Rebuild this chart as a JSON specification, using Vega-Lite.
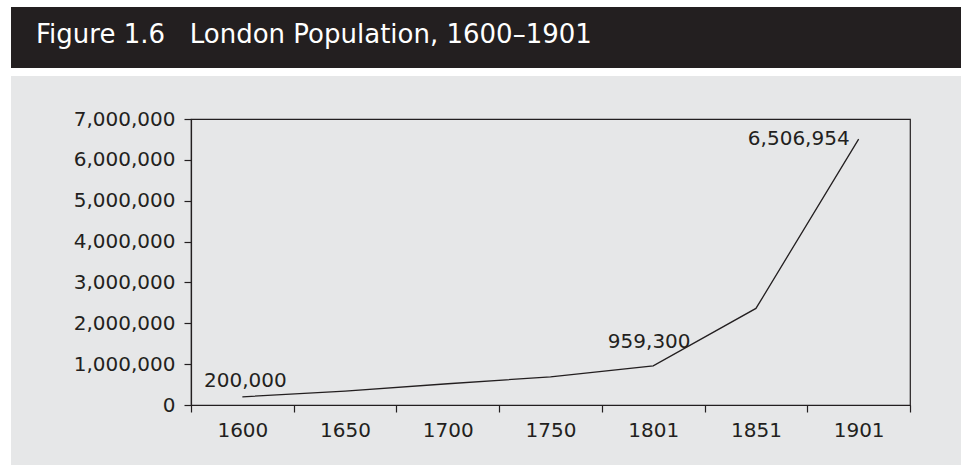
{
  "$schema": "https://vega.github.io/schema/vega-lite/v6.json",
  "background": "#e6e7e8",
  "padding": 0,
  "spacing": 0,
  "bounds": "flush",
  "config": {
    "view": {"stroke": null},
    "font": "DejaVu Sans",
    "concat": {"spacing": 0}
  },
  "datasets": {
    "blank": [{}],
    "header": [{"t": "Figure\u00a01.6\u00a0\u00a0\u00a0London Population, 1600–1901"}],
    "pop": [
      {"year": "1600", "pop": 200000},
      {"year": "1650", "pop": 340000},
      {"year": "1700", "pop": 520000},
      {"year": "1750", "pop": 690000},
      {"year": "1801", "pop": 959300},
      {"year": "1851", "pop": 2363341},
      {"year": "1901", "pop": 6506954}
    ]
  },
  "hconcat": [
    {
      "data": {"name": "blank"},
      "mark": {"type": "point", "opacity": 0},
      "encoding": {},
      "width": 11,
      "height": 465,
      "view": {"fill": "#ffffff", "stroke": null}
    },
    {
      "spacing": 0,
      "bounds": "flush",
      "vconcat": [
        {
          "data": {"name": "blank"},
          "mark": {"type": "point", "opacity": 0},
          "encoding": {},
          "width": 950,
          "height": 7,
          "view": {"fill": "#ffffff", "stroke": null}
        },
        {
          "data": {"name": "header"},
          "mark": {"type": "text", "align": "left", "baseline": "alphabetic", "font": "DejaVu Sans", "fontSize": 26, "color": "#ffffff"},
          "encoding": {
            "text": {"field": "t"},
            "x": {"value": 25},
            "y": {"value": 36}
          },
          "width": 950,
          "height": 61,
          "view": {"fill": "#231f20", "stroke": null}
        },
        {
          "data": {"name": "blank"},
          "mark": {"type": "point", "opacity": 0},
          "encoding": {},
          "width": 950,
          "height": 8,
          "view": {"fill": "#ffffff", "stroke": null}
        },
        {
          "data": {"name": "blank"},
          "mark": {"type": "point", "opacity": 0},
          "encoding": {},
          "width": 950,
          "height": 43,
          "view": {"stroke": null}
        },
        {
          "spacing": 0,
          "bounds": "flush",
          "hconcat": [
            {
              "data": {"name": "blank"},
              "mark": {"type": "point", "opacity": 0},
              "encoding": {},
              "width": 180,
              "height": 286,
              "view": {"stroke": null}
            },
            {
              "data": {"name": "pop"},
              "width": 719,
              "height": 286,
              "view": {"stroke": "#231f20", "strokeWidth": 1.2},
              "encoding": {
                "x": {
                  "field": "year",
                  "type": "ordinal",
                  "sort": null,
                  "scale": {"type": "band", "paddingInner": 0, "paddingOuter": 0},
                  "axis": {
                    "title": null,
                    "labelAngle": 0,
                    "tickBand": "extent",
                    "tickSize": 7,
                    "tickColor": "#231f20",
                    "tickWidth": 1.2,
                    "domainColor": "#231f20",
                    "domainWidth": 1.2,
                    "labelFont": "DejaVu Sans",
                    "labelFontSize": 20,
                    "labelColor": "#231f20",
                    "labelPadding": 8,
                    "grid": false
                  }
                },
                "y": {
                  "field": "pop",
                  "type": "quantitative",
                  "scale": {"domain": [0, 7000000], "nice": false},
                  "axis": {
                    "title": null,
                    "values": [0, 1000000, 2000000, 3000000, 4000000, 5000000, 6000000, 7000000],
                    "labelExpr": "format(datum.value, ',')",
                    "tickSize": 7,
                    "tickColor": "#231f20",
                    "tickWidth": 1.2,
                    "domainColor": "#231f20",
                    "domainWidth": 1.2,
                    "labelFont": "DejaVu Sans",
                    "labelFontSize": 20,
                    "labelColor": "#231f20",
                    "labelPadding": 9,
                    "grid": false
                  }
                }
              },
              "layer": [
                {"mark": {"type": "line", "color": "#231f20", "strokeWidth": 1.3}},
                {
                  "transform": [{"filter": "datum.year == '1600'"}],
                  "mark": {"type": "text", "align": "center", "baseline": "alphabetic", "dx": 3, "dy": -10, "font": "DejaVu Sans", "fontSize": 20, "color": "#231f20"},
                  "encoding": {"text": {"field": "pop", "type": "quantitative", "format": ","}}
                },
                {
                  "transform": [{"filter": "datum.year == '1801'"}],
                  "mark": {"type": "text", "align": "center", "baseline": "alphabetic", "dx": -4, "dy": -18, "font": "DejaVu Sans", "fontSize": 20, "color": "#231f20"},
                  "encoding": {"text": {"field": "pop", "type": "quantitative", "format": ","}}
                },
                {
                  "transform": [{"filter": "datum.year == '1901'"}],
                  "mark": {"type": "text", "align": "right", "baseline": "alphabetic", "dx": -9, "dy": 6, "font": "DejaVu Sans", "fontSize": 20, "color": "#231f20"},
                  "encoding": {"text": {"field": "pop", "type": "quantitative", "format": ","}}
                }
              ]
            }
          ]
        }
      ]
    }
  ]
}
